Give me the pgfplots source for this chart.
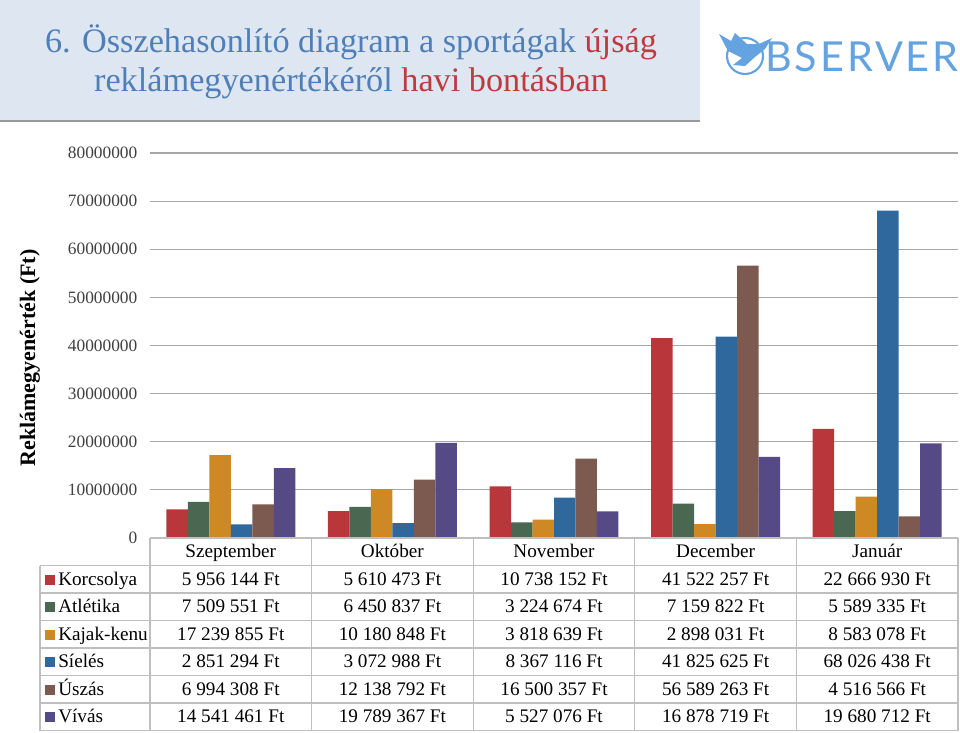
\documentclass[border=0pt]{standalone}
\usepackage{pgfplots}
\pgfplotsset{compat=1.18}
\usepackage{fontspec}
\setmainfont{Liberation Serif}
\newfontfamily\logofont[LetterSpace=7]{Lato}

\definecolor{kor}{HTML}{B9373B}
\definecolor{atl}{HTML}{4A6752}
\definecolor{kaj}{HTML}{CF8924}
\definecolor{sie}{HTML}{2E689C}
\definecolor{usz}{HTML}{7D5A50}
\definecolor{viv}{HTML}{564A86}
\definecolor{titblue}{HTML}{4F7FB8}
\definecolor{titred}{HTML}{BE3A3E}
\definecolor{banner}{HTML}{DDE6F1}
\definecolor{logoblue}{HTML}{64A2E0}
\definecolor{gridgray}{HTML}{A6A6A6}
\definecolor{tabgray}{HTML}{BFBFBF}

\newcommand{\tf}{\fontsize{14.4}{17}\selectfont}

\begin{document}
\begin{tikzpicture}[x=0.75pt,y=-0.75pt]
\useasboundingbox (0,0) rectangle (960,732);

% banner
\fill[banner] (0,0) rectangle (700,121);
\draw[gray!80,line width=1.5pt] (0,121) -- (700,121);
\node[font=\fontsize{25.7}{28}\selectfont,text=titblue] at (351,42)
  {6. Összehasonlító diagram a sportágak \textcolor{titred}{újság}};
\node[font=\fontsize{25.7}{28}\selectfont,text=titblue] at (351,83)
  {reklámegyenértékéről \textcolor{titred}{havi bontásban}};

% logo
\draw[logoblue,line width=1.6pt] (745,56) circle (18);
\fill[logoblue] (719,34) -- (731,41) -- (735,33) -- (747,44) -- (759,44)
  -- (772,38) -- (765,49) -- (755,57) -- (745,66) -- (733,65) -- (742,58)
  -- (728,51) -- cycle;
\node[anchor=west,font=\logofont\fontsize{31}{34}\selectfont,text=logoblue,inner sep=0]
  at (765,57) {BSERVER};

% y label
\node[rotate=90,font=\fontsize{16.5}{19}\selectfont\bfseries] at (30,358)
  {Reklámegyenérték (Ft)};

\coordinate (O) at (150,538);
\begin{axis}[
  at={(O)}, anchor=south west,
  scale only axis, width=606pt, height=288.75pt,
  xmin=0, xmax=5, ymin=0, ymax=80000000,
  ybar=0pt, bar width=0.133,
  axis line style={draw=none},
  xtick=\empty,
  scaled y ticks=false,
  ytick={0,10000000,20000000,30000000,40000000,50000000,60000000,70000000,80000000},
  yticklabels={0,10000000,20000000,30000000,40000000,50000000,60000000,70000000,80000000},
  yticklabel style={font=\fontsize{13}{15}\selectfont,text=black!75,xshift=-6pt},
  ymajorgrids, major grid style={gridgray,line width=0.9pt},
  tick style={draw=none},
  /pgf/number format/assume math mode=true,
  clip=false,
]
\addplot[fill=kor,draw=none] coordinates {(0.5,5956144) (1.5,5610473) (2.5,10738152) (3.5,41522257) (4.5,22666930)};
\addplot[fill=atl,draw=none] coordinates {(0.5,7509551) (1.5,6450837) (2.5,3224674) (3.5,7159822) (4.5,5589335)};
\addplot[fill=kaj,draw=none] coordinates {(0.5,17239855) (1.5,10180848) (2.5,3818639) (3.5,2898031) (4.5,8583078)};
\addplot[fill=sie,draw=none] coordinates {(0.5,2851294) (1.5,3072988) (2.5,8367116) (3.5,41825625) (4.5,68026438)};
\addplot[fill=usz,draw=none] coordinates {(0.5,6994308) (1.5,12138792) (2.5,16500357) (3.5,56589263) (4.5,4516566)};
\addplot[fill=viv,draw=none] coordinates {(0.5,14541461) (1.5,19789367) (2.5,5527076) (3.5,16878719) (4.5,19680712)};
\end{axis}

% data table
\begin{scope}[tabgray,line width=1pt]
\draw (150,538) -- (958,538);
\foreach \k in {0,...,6} \draw (40,565.5+27.5*\k) -- (958,565.5+27.5*\k);
\draw (40,565.5) -- (40,730.5);
\foreach \j in {0,...,5} \draw (150+161.6*\j,538) -- (150+161.6*\j,730.5);
\end{scope}

\tikzset{cell/.style={font=\tf,anchor=base,inner sep=0}}
\foreach \m [count=\j] in {Szeptember,Október,November,December,Január}
  \node[cell] at (150+161.6*\j-80.8,557.5) {\m};

\foreach \n/\c/\a/\b/\d/\e/\f [count=\i] in {
  Korcsolya/kor/5 956 144 Ft/5 610 473 Ft/10 738 152 Ft/41 522 257 Ft/22 666 930 Ft,
  Atlétika/atl/7 509 551 Ft/6 450 837 Ft/3 224 674 Ft/7 159 822 Ft/5 589 335 Ft,
  Kajak-kenu/kaj/17 239 855 Ft/10 180 848 Ft/3 818 639 Ft/2 898 031 Ft/8 583 078 Ft,
  Síelés/sie/2 851 294 Ft/3 072 988 Ft/8 367 116 Ft/41 825 625 Ft/68 026 438 Ft,
  Úszás/usz/6 994 308 Ft/12 138 792 Ft/16 500 357 Ft/56 589 263 Ft/4 516 566 Ft,
  Vívás/viv/14 541 461 Ft/19 789 367 Ft/5 527 076 Ft/16 878 719 Ft/19 680 712 Ft} {
  \fill[\c] (45,551.8+27.5*\i-4.5) rectangle (55,551.8+27.5*\i+5.5);
  \node[cell,anchor=base west] at (58,557.5+27.5*\i) {\n};
  \node[cell] at (230.8,557.5+27.5*\i) {\a};
  \node[cell] at (392.4,557.5+27.5*\i) {\b};
  \node[cell] at (554,557.5+27.5*\i) {\d};
  \node[cell] at (715.6,557.5+27.5*\i) {\e};
  \node[cell] at (877.2,557.5+27.5*\i) {\f};
}
\end{tikzpicture}
\end{document}
